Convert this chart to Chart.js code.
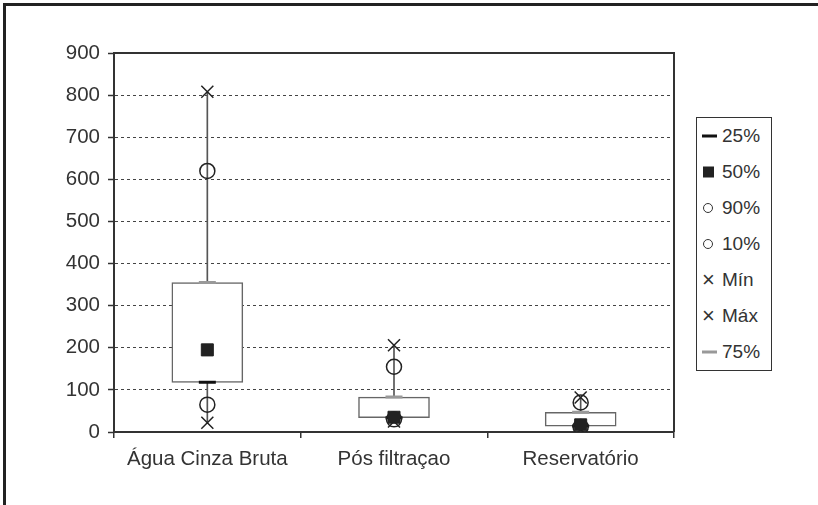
<!DOCTYPE html>
<html>
<head>
<meta charset="utf-8">
<script src="https://cdn.jsdelivr.net/npm/chart.js@4"></script>
<style>
    body { margin: 0; background: #fff; }
    #wrap { position: relative; width: 818px; height: 505px; overflow: hidden; }
    #frame { position: absolute; left: 3px; top: 3px; right: -10px; bottom: -10px;
             border-left: 3px solid #222; border-top: 3px solid #222; pointer-events: none; }
    #legend { position: absolute; left: 696px; top: 117px; width: 74px; height: 252px;
              border: 1px solid #333; background: #fff;
              font-family: "Liberation Sans", Arial, sans-serif; font-size: 19px; color: #333; }
    .item { position: relative; height: 36px; line-height: 36px; padding-left: 25px; }
    .mk { position: absolute; left: 5px; top: 50%; transform: translateY(-50%); }
    .dash { width: 15px; height: 3px; }
    .sq { width: 11px; height: 11px; background: #222; left: 6px; }
    .ring { width: 8px; height: 8px; border: 1.5px solid #333; border-radius: 50%; left: 6px; }
    .x { font-size: 22px; line-height: 22px; left: 5px; }
</style>
</head>
<body>
<div id="wrap">
    <canvas id="boxChart" width="818" height="505"></canvas>
    <div id="frame"></div>
    <div id="legend"></div>
</div>
<script>
// dados
const categorias = ['Água Cinza Bruta', 'Pós filtraçao', 'Reservatório'];
const p25 = [118, 34, 14];
const p50 = [195, 35, 17];
const p75 = [355, 83, 47];
const p90 = [620, 155, 70];
const p10 = [65, 30, 12];
const pMin = [22, 25, 6];
const pMax = [808, 206, 82];
const yTicks = [0, 100, 200, 300, 400, 500, 600, 700, 800, 900];

// itens da legenda (ordem do original)
const legendItems = [
    { label: '25%', cls: 'dash', color: '#111' },
    { label: '50%', cls: 'sq' },
    { label: '90%', cls: 'ring' },
    { label: '10%', cls: 'ring' },
    { label: 'Mín', cls: 'x' },
    { label: 'Máx', cls: 'x' },
    { label: '75%', cls: 'dash', color: '#999' }
];

const legendEl = document.getElementById('legend');
legendItems.forEach(it => {
    const row = document.createElement('div');
    row.className = 'item';
    const mk = document.createElement('span');
    mk.className = 'mk ' + it.cls;
    if (it.cls === 'dash') mk.style.background = it.color;
    if (it.cls === 'x') mk.textContent = '×';
    row.appendChild(mk);
    row.appendChild(document.createTextNode(it.label));
    legendEl.appendChild(row);
});

// moldura do gráfico (topo e direita)
const plotFrame = {
    id: 'plotFrame',
    afterDraw(chart) {
        const { ctx, chartArea: a } = chart;
        ctx.save();
        ctx.strokeStyle = '#333';
        ctx.lineWidth = 2;
        ctx.beginPath();
        ctx.moveTo(a.left, a.top);
        ctx.lineTo(a.right, a.top);
        ctx.lineTo(a.right, a.bottom);
        ctx.stroke();
        ctx.restore();
    }
};

const font = { family: '"Liberation Sans", Arial, sans-serif', size: 20.5 };

const marker = (label, data, style, color, radius, width, fill, order) => ({
    type: 'line', label, data, showLine: false, order,
    pointStyle: style, pointRadius: radius, pointHoverRadius: radius,
    pointBorderColor: color, pointBackgroundColor: fill || 'rgba(0,0,0,0)',
    pointBorderWidth: width, borderColor: color
});

new Chart(document.getElementById('boxChart'), {
    type: 'bar',
    data: {
        labels: categorias,
        datasets: [
            { label: 'whisker', data: pMin.map((v, i) => [v, pMax[i]]), backgroundColor: '#555',
              barThickness: 1, grouped: false, order: 10 },
            { label: 'box', data: p25.map((v, i) => [v, p75[i]]), backgroundColor: '#fff',
              borderColor: '#666', borderWidth: 1.5, borderSkipped: false,
              barThickness: 71, grouped: false, order: 9 },
            marker('75%', p75, 'line', '#999', 8.5, 3, null, 8),
            marker('25%', p25, 'line', '#111', 8.5, 3, null, 7),
            marker('90%', p90, 'circle', '#222', 7.5, 1.5, null, 6),
            marker('10%', p10, 'circle', '#222', 7.5, 1.5, null, 5),
            marker('Mín', pMin, 'crossRot', '#222', 8.5, 1.5, null, 4),
            marker('Máx', pMax, 'crossRot', '#222', 8.5, 1.5, null, 3),
            marker('50%', p50, 'rect', '#222', 8.5, 1, '#222', 2)
        ]
    },
    options: {
        responsive: false,
        animation: false,
        devicePixelRatio: 1,
        layout: { padding: { left: 0, top: 53, right: 144, bottom: 0 } },
        plugins: { legend: { display: false }, tooltip: { enabled: false } },
        scales: {
            x: {
                offset: true,
                grid: { offset: true, drawOnChartArea: false, tickLength: 6, color: '#333', lineWidth: 1.5 },
                border: { display: true, color: '#333', width: 2 },
                ticks: { color: '#333', font, padding: 9, maxRotation: 0 },
                afterFit(scale) { scale.height = 73; }
            },
            y: {
                min: 0, max: 900,
                afterBuildTicks(scale) { scale.ticks = yTicks.map(v => ({ value: v })); },
                grid: { color: '#444', lineWidth: 1, tickLength: 6, tickColor: '#333', tickWidth: 1.5 },
                border: { display: true, color: '#333', width: 2, dash: [3, 3] },
                ticks: { color: '#333', font, padding: 8 },
                afterFit(scale) { scale.width = 114; }
            }
        }
    },
    plugins: [plotFrame]
});
</script>
</body>
</html>
